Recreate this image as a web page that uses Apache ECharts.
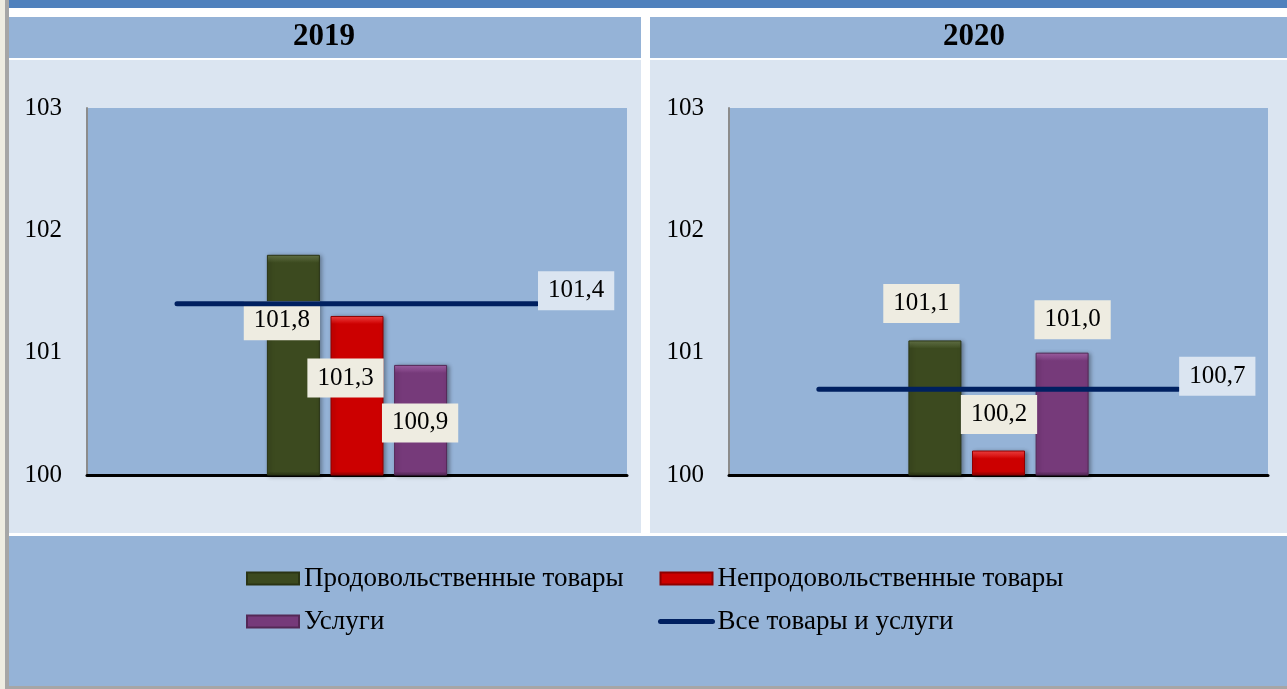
<!DOCTYPE html>
<html>
<head>
<meta charset="utf-8">
<script src="https://cdn.jsdelivr.net/npm/echarts@6/dist/echarts.min.js"></script>
<style>
html, body { margin: 0; padding: 0; background: #DBE5F1; }
#chart { width: 1287px; height: 689px; }
</style>
</head>
<body>
<div id="chart"></div>
<script>
// data
const years = ['2019', '2020']
const seriesNames = ['Продовольственные товары', 'Непродовольственные товары', 'Услуги', 'Все товары и услуги']
const food = [101.8, 101.1]
const nonFood = [101.3, 100.2]
const services = [100.9, 101.0]
const total = [101.4, 100.7]
const yTicks = [100, 101, 102, 103]

const font = 'Liberation Serif'
const barColors = ['#3C4A1F', '#CC0000', '#763A7A']
const barTops = ['#68784A', '#FF4545', '#A865AC']
const barBorders = ['#2A3414', '#8E0000', '#542856']
// hand placed labels, like the original (offset from bar top-left)
const labelSpots = [
  [[15, 66], [15, 62], [26, 58]],
  [[13, -37], [27, -36], [37, -33]]
]
const plotH = 367

const fmt = (v) => v.toFixed(1).replace('.', ',')

// bevel look: light band of ~8px on top of each bar
const bevel = (k, v) => {
  const px = (v - yTicks[0]) / (yTicks[yTicks.length - 1] - yTicks[0]) * plotH
  const f = Math.min(0.45, 8 / Math.max(px, 1))
  return new echarts.graphic.LinearGradient(0, 0, 0, 1, [
    { offset: 0, color: barTops[k] },
    { offset: f, color: barColors[k] },
    { offset: 1 - f / 2, color: barColors[k] },
    { offset: 1, color: barBorders[k] }
  ])
}

const chart = echarts.init(document.getElementById('chart'))

const grids = [
  { left: 87, top: 108, width: 540, height: plotH },
  { left: 729, top: 108, width: 539, height: plotH }
].map(g => Object.assign({ show: true, backgroundColor: '#95B3D7', borderWidth: 0 }, g))

const xAxes = []
const yAxes = []
years.forEach((y, i) => {
  xAxes.push({
    gridIndex: i, type: 'category', data: [y],
    axisLine: { lineStyle: { color: '#000', width: 3 } },
    axisTick: { show: false }, axisLabel: { show: false }
  })
  xAxes.push({ gridIndex: i, type: 'category', data: ['a', 'b', 'c'], show: false })
  yAxes.push({
    gridIndex: i, type: 'value',
    min: yTicks[0], max: yTicks[yTicks.length - 1], interval: 1,
    axisLine: { show: true, lineStyle: { color: '#8C8C8C', width: 2 } },
    axisTick: { show: false }, splitLine: { show: false },
    axisLabel: { fontSize: 25, fontFamily: font, color: '#000', margin: 25 }
  })
})

const labelBox = {
  show: true, fontSize: 25, fontFamily: font, color: '#000',
  backgroundColor: '#EEECE1', padding: [7, 10], lineHeight: 25,
  align: 'center', verticalAlign: 'middle'
}

const series = []
years.forEach((y, i) => {
  [food, nonFood, services].forEach((arr, k) => {
    series.push({
      name: seriesNames[k], type: 'bar',
      xAxisIndex: 2 * i, yAxisIndex: i,
      barWidth: 53, barGap: '20%',
      itemStyle: {
        color: barColors[k], borderColor: barBorders[k], borderWidth: 1,
        shadowBlur: 4, shadowColor: 'rgba(0,0,0,0.35)', shadowOffsetX: 2, shadowOffsetY: 1
      },
      label: Object.assign({}, labelBox, { position: labelSpots[i][k], formatter: (p) => fmt(p.value) }),
      data: [{ value: arr[i], itemStyle: { color: bevel(k, arr[i]) } }]
    })
  })
  series.push({
    name: seriesNames[3], type: 'line',
    xAxisIndex: 2 * i + 1, yAxisIndex: i,
    symbol: 'none',
    lineStyle: { color: '#002060', width: 5, cap: 'round' },
    itemStyle: { color: '#002060' },
    endLabel: Object.assign({}, labelBox, {
      backgroundColor: '#DBE5F1', align: 'left', distance: 1, offset: [0, -13],
      formatter: (p) => fmt(p.value)
    }),
    data: [total[i], total[i], total[i]],
    z: 3
  })
})

const legendBase = {
  orient: 'vertical', top: 565, padding: 0, itemWidth: 52, itemHeight: 12, itemGap: 16,
  textStyle: { fontSize: 27, fontFamily: font, color: '#000' }
}

const rect = (x, y, w, h, fill) => ({ type: 'rect', shape: { x, y, width: w, height: h }, style: { fill }, z: -5, silent: true })

chart.setOption({
  backgroundColor: '#DBE5F1',
  animation: false,
  graphic: [
    rect(0, 0, 5, 689, '#EEECE1'),
    rect(5, 0, 4, 689, '#A6A6A6'),
    rect(9, 0, 1278, 8, '#4F81BD'),
    rect(9, 8, 1278, 9, '#FFFFFF'),
    rect(9, 17, 632, 41, '#95B3D7'),
    rect(650, 17, 637, 41, '#95B3D7'),
    rect(9, 58, 1278, 2, '#FFFFFF'),
    rect(641, 8, 9, 526, '#FFFFFF'),
    rect(9, 533, 1278, 3, '#FFFFFF'),
    rect(9, 536, 1278, 150, '#95B3D7'),
    rect(9, 686, 1278, 3, '#A6A6A6'),
    { type: 'text', left: 325 - 32, top: 21, z: 5, style: { text: years[0], fontSize: 31, fontWeight: 'bold', fontFamily: font, fill: '#000' } },
    { type: 'text', left: 975 - 32, top: 21, z: 5, style: { text: years[1], fontSize: 31, fontWeight: 'bold', fontFamily: font, fill: '#000' } }
  ],
  grid: grids,
  xAxis: xAxes,
  yAxis: yAxes,
  legend: [
    Object.assign({}, legendBase, {
      left: 246,
      data: [
        { name: seriesNames[0], icon: 'rect', itemStyle: { color: barColors[0] } },
        { name: seriesNames[2], icon: 'rect', itemStyle: { color: barColors[2] } }
      ]
    }),
    Object.assign({}, legendBase, {
      left: 658,
      data: [
        { name: seriesNames[1], icon: 'rect', itemStyle: { color: barColors[1] } },
        { name: seriesNames[3], itemStyle: { color: 'rgba(0,0,0,0)', borderWidth: 0 }, lineStyle: { width: 5, color: '#002060', cap: 'round' } }
      ]
    })
  ],
  series
})
</script>
</body>
</html>
